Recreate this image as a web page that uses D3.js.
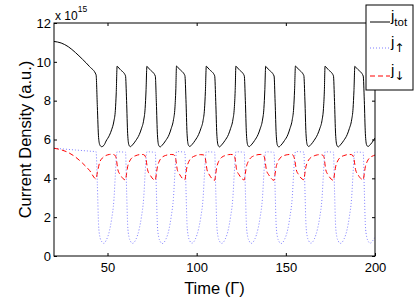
<!DOCTYPE html>
<html><head><meta charset="utf-8">
<script src="https://cdn.jsdelivr.net/npm/d3@7"></script>
<style>
body{margin:0;background:#fff}
svg{display:block}
text{font-family:"Liberation Sans",Arial,Helvetica,sans-serif;fill:#000}
</style>
</head><body><svg id="c" width="415" height="302"></svg>
<script>
// Time (Γ)
const time=[
20,24,28,32,36,40,43.6,44.3,45.0,45.7,46.7,48.0,49.2,51.1,52.3,53.6,54.4,54.9,
55.4,55.8,57.2,60.1,60.7,61.3,62.0,62.8,64.0,65.9,67.8,69.0,70.3,71.1,71.6,
72.1,72.5,73.9,76.8,77.4,78.0,78.7,79.5,80.7,82.6,84.5,85.7,87.0,87.8,88.3,
88.7,89.1,90.5,93.4,94.0,94.6,95.3,96.1,97.3,99.2,101.1,102.3,103.6,104.4,104.9,
105.4,105.8,107.2,110.1,110.7,111.3,112.0,112.8,114.0,115.9,117.8,119.0,120.3,121.1,121.6,
122.0,122.4,123.8,126.7,127.3,127.9,128.6,129.4,130.6,132.5,134.4,135.6,136.9,137.7,138.2,
138.7,139.1,140.5,143.4,144.0,144.6,145.3,146.1,147.3,149.2,151.1,152.3,153.6,154.4,154.9,
155.4,155.8,157.2,160.1,160.7,161.3,162.0,162.8,164.0,165.9,167.8,169.0,170.3,171.1,171.6,
172.0,172.4,173.8,176.7,177.3,177.9,178.6,179.4,180.6,182.5,184.4,185.6,186.9,187.7,188.2,
188.7,189.1,190.5,193.4,194.0,194.6,195.3,196.1,197.3,199.2,200
];
// j_tot (x 1e15)
const jTot=[
11.05,10.97,10.78,10.48,10.13,9.75,9.33,7.7,6.1,5.72,5.63,5.7,5.92,6.22,6.5,6.95,7.5,8.4,
9.78,9.74,9.60,9.28,8.0,6.3,5.72,5.63,5.72,5.95,6.25,6.55,7.0,7.6,8.5,
9.77,9.73,9.59,9.27,7.9,6.25,5.7,5.62,5.71,5.94,6.24,6.56,7.02,7.62,8.55,
9.79,9.75,9.61,9.29,8.05,6.32,5.73,5.64,5.73,5.96,6.26,6.55,6.98,7.58,8.48,
9.78,9.74,9.6,9.28,7.95,6.28,5.71,5.62,5.72,5.95,6.25,6.56,7.01,7.61,8.52,
9.78,9.74,9.6,9.28,8.0,6.3,5.72,5.63,5.72,5.95,6.25,6.55,7.0,7.6,8.5,
9.77,9.73,9.59,9.27,7.92,6.27,5.7,5.62,5.71,5.94,6.24,6.56,7.02,7.62,8.54,
9.79,9.75,9.61,9.29,8.03,6.31,5.73,5.64,5.73,5.96,6.26,6.55,6.99,7.59,8.49,
9.78,9.74,9.6,9.28,7.96,6.29,5.71,5.62,5.72,5.95,6.25,6.56,7.01,7.61,8.51,
9.77,9.73,9.6,9.27,8.0,6.3,5.72,5.64,5.73,5.96,6.08
];
// j_up (x 1e15)
const jUp=[
5.55,5.52,5.49,5.46,5.43,5.40,5.37,3.7,1.6,1.0,0.75,0.65,0.8,1.3,1.9,2.9,4.2,5.0,
5.37,5.37,5.36,5.35,3.4,1.6,1.0,0.78,0.65,0.85,1.4,2.0,3.0,4.26,5.0,
5.37,5.37,5.36,5.34,3.35,1.55,0.98,0.76,0.64,0.84,1.38,2.02,3.02,4.3,5.02,
5.38,5.38,5.37,5.35,3.45,1.62,1.02,0.79,0.66,0.86,1.41,1.99,2.98,4.24,4.98,
5.37,5.37,5.36,5.35,3.38,1.58,0.99,0.77,0.65,0.85,1.39,2.01,3.01,4.27,5.01,
5.37,5.37,5.36,5.35,3.4,1.6,1.0,0.78,0.65,0.85,1.4,2.0,3.0,4.26,5.0,
5.37,5.37,5.36,5.34,3.36,1.56,0.98,0.76,0.64,0.84,1.38,2.02,3.02,4.29,5.02,
5.38,5.38,5.37,5.35,3.44,1.61,1.01,0.79,0.66,0.86,1.41,1.99,2.99,4.25,4.99,
5.37,5.37,5.36,5.35,3.39,1.58,0.99,0.77,0.65,0.85,1.39,2.01,3.01,4.27,5.01,
5.36,5.36,5.35,5.34,3.4,1.6,1.0,0.78,0.66,0.85,0.95
];
// j_down (x 1e15)
const jDown=[
5.55,5.47,5.33,5.1,4.78,4.4,3.97,4.3,4.6,4.85,5.0,5.12,5.18,5.23,5.24,5.22,5.16,5.03,
4.7,4.45,4.18,3.92,4.25,4.6,4.8,4.95,5.08,5.17,5.22,5.23,5.22,5.15,5.0,
4.68,4.43,4.17,3.9,4.24,4.6,4.81,4.96,5.09,5.18,5.22,5.23,5.22,5.14,4.98,
4.72,4.46,4.19,3.93,4.26,4.61,4.8,4.95,5.07,5.16,5.21,5.22,5.21,5.15,5.01,
4.69,4.44,4.17,3.9,4.24,4.59,4.8,4.95,5.08,5.17,5.22,5.23,5.22,5.15,4.99,
4.7,4.45,4.18,3.92,4.25,4.6,4.8,4.95,5.08,5.17,5.22,5.23,5.22,5.15,5.0,
4.68,4.43,4.17,3.9,4.24,4.6,4.81,4.96,5.09,5.18,5.22,5.23,5.22,5.14,4.98,
4.72,4.46,4.19,3.93,4.26,4.61,4.8,4.95,5.07,5.16,5.21,5.22,5.21,5.15,5.01,
4.69,4.44,4.17,3.9,4.24,4.59,4.8,4.95,5.08,5.17,5.22,5.23,5.22,5.15,4.99,
4.7,4.45,4.18,3.93,4.25,4.6,4.8,4.95,5.08,5.17,5.2
];
const xTicks=[50,100,150,200];
const yTicks=[0,2,4,6,8,10,12];
const seriesNames=["tot","↑","↓"];

const svg=d3.select("#c");
const P={l:54,r:375,t:23,b:256};
const x=d3.scaleLinear().domain([20,200]).range([P.l,P.r]);
const y=d3.scaleLinear().domain([0,12]).range([P.b,P.t]);

svg.append("rect").attr("width",415).attr("height",302).attr("fill","#fff");
svg.append("clipPath").attr("id","clip").append("rect")
  .attr("x",P.l).attr("y",P.t).attr("width",P.r-P.l).attr("height",P.b-P.t);

const series=[
  {vals:jUp,color:"#7f7fff",dash:"1,2",w:1},
  {vals:jDown,color:"#ff0000",dash:"5,3",w:1},
  {vals:jTot,color:"#000",dash:null,w:1}
];
const lineGen=d3.line().x(d=>x(d[0])).y(d=>y(d[1])).curve(d3.curveMonotoneX);
const g=svg.append("g").attr("clip-path","url(#clip)");
series.forEach(s=>{
  g.append("path").datum(time.map((t,i)=>[t,s.vals[i]]))
   .attr("d",lineGen).attr("fill","none")
   .attr("stroke",s.color).attr("stroke-width",s.w)
   .attr("stroke-dasharray",s.dash);
});

// axes
const fs=13;
const ax=svg.append("g").attr("transform",`translate(0,${P.b})`)
  .call(d3.axisBottom(x).tickValues(xTicks).tickSize(-3).tickPadding(7).tickFormat(d3.format("d")));
const ay=svg.append("g").attr("transform",`translate(${P.l},0)`)
  .call(d3.axisLeft(y).tickValues(yTicks).tickSize(-3).tickPadding(3).tickFormat(d3.format("d")));
const at=svg.append("g").attr("transform",`translate(0,${P.t})`)
  .call(d3.axisTop(x).tickValues(xTicks).tickSize(-3).tickFormat(""));
const ar=svg.append("g").attr("transform",`translate(${P.r},0)`)
  .call(d3.axisRight(y).tickValues(yTicks).tickSize(-3).tickFormat(""));
[ax,ay,at,ar].forEach(a=>{
  a.select(".domain").remove();
  a.selectAll("text").attr("font-size",fs).attr("font-family","Liberation Sans, Arial, sans-serif");
  a.selectAll("line").attr("stroke","#000");
});
svg.append("rect").attr("x",P.l).attr("y",P.t).attr("width",P.r-P.l).attr("height",P.b-P.t)
  .attr("fill","none").attr("stroke","#000").attr("stroke-width",1);

// exponent
const ex=svg.append("text").attr("x",P.l+1).attr("y",20).attr("font-size",12);
ex.append("tspan").text("x 10");
ex.append("tspan").attr("font-size",8.5).attr("dy",-8).text("15");

// axis labels
svg.append("text").attr("x",(P.l+P.r)/2).attr("y",294).attr("text-anchor","middle")
  .attr("font-size",16.5).text("Time (Γ)");
svg.append("text").attr("transform",`translate(31,${(P.t+P.b)/2}) rotate(-90)`)
  .attr("text-anchor","middle").attr("font-size",16.5).text("Current Density (a.u.)");

// legend
const lg=svg.append("g");
lg.append("rect").attr("x",366).attr("y",5).attr("width",47).attr("height",85)
  .attr("fill","#fff").attr("stroke","#000").attr("stroke-width",1);
const legendSeries=[series[2],series[0],series[1]];
const ly=[22,48,76];
legendSeries.forEach((s,i)=>{
  lg.append("line").attr("x1",370).attr("x2",390).attr("y1",ly[i]).attr("y2",ly[i])
    .attr("stroke",s.color).attr("stroke-width",1).attr("stroke-dasharray",s.dash);
  const t=lg.append("text").attr("x",391).attr("y",ly[i]-1).attr("font-size",15);
  t.append("tspan").text("j");
  t.append("tspan").attr("font-size",i===0?11.5:12).attr("dy",5)
   .attr("font-family",i===0?"Liberation Sans, Arial, sans-serif":"DejaVu Sans, sans-serif")
   .text(seriesNames[i]);
});
</script>
</body></html>
